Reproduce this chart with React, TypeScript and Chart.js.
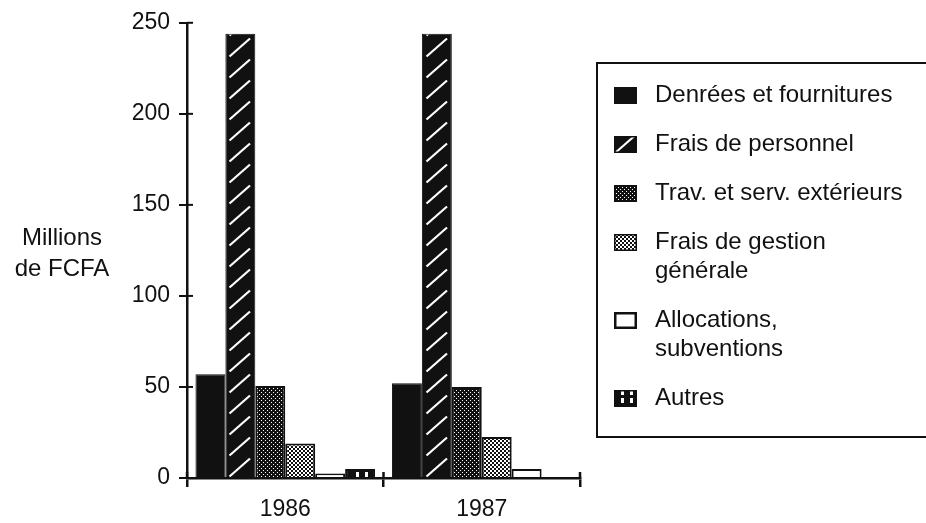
import React, { useEffect, useRef } from "react";
import { Chart, registerables } from "chart.js";

Chart.register(...registerables);

// ---- data ----
const categories = ["1986", "1987"];
const seriesLabels = [
  "Denrées et fournitures",
  "Frais de personnel",
  "Trav. et serv. extérieurs",
  "Frais de gestion\ngénérale",
  "Allocations,\nsubventions",
  "Autres",
];
const denrees = [57, 52];
const fraisPersonnel = [244, 244];
const travServ = [50.5, 50];
const fraisGestion = [19, 22.5];
const allocations = [2.5, 5];
const autres = [5, 0];
const yTickMin = 0;
const yTickMax = 250;
const yTickStep = 50;
const yTitle = ["Millions", "de FCFA"];

const seriesValues = [denrees, fraisPersonnel, travServ, fraisGestion, allocations, autres];

const FONT = '"Liberation Sans", Arial, Helvetica, sans-serif';
const INK = "#111";

function makeTile(w: number, h: number, draw: (g: CanvasRenderingContext2D) => void) {
  const c = document.createElement("canvas");
  c.width = w;
  c.height = h;
  const g = c.getContext("2d")!;
  draw(g);
  return c;
}

function buildTiles() {
  const solid = makeTile(4, 4, (g) => {
    g.fillStyle = INK;
    g.fillRect(0, 0, 4, 4);
  });
  const hatch = makeTile(30, 21, (g) => {
    g.fillStyle = INK;
    g.fillRect(0, 0, 30, 21);
    g.strokeStyle = "#fff";
    g.lineWidth = 2.2;
    g.beginPath();
    g.moveTo(4.5, 19.5);
    g.lineTo(25, 1.5);
    g.stroke();
  });
  const dots = makeTile(4, 4, (g) => {
    g.fillStyle = INK;
    g.fillRect(0, 0, 4, 4);
    g.fillStyle = "#fff";
    g.fillRect(0, 0, 1, 1);
    g.fillRect(2, 2, 1, 1);
  });
  const checker = makeTile(4, 4, (g) => {
    g.fillStyle = INK;
    g.fillRect(0, 0, 4, 4);
    g.fillStyle = "#fff";
    g.fillRect(0, 0, 2, 2);
    g.fillRect(2, 2, 2, 2);
  });
  const white = makeTile(4, 4, (g) => {
    g.fillStyle = "#fff";
    g.fillRect(0, 0, 4, 4);
  });
  const bars = makeTile(30, 8, (g) => {
    g.fillStyle = INK;
    g.fillRect(0, 0, 30, 8);
    g.fillStyle = "#fff";
    g.fillRect(11, 2, 3, 5);
    g.fillRect(20, 2, 3, 5);
  });
  return [solid, hatch, dots, checker, white, bars];
}

export default function App() {
  const ref = useRef<HTMLCanvasElement | null>(null);

  useEffect(() => {
    const canvas = ref.current!;
    const ctx = canvas.getContext("2d")!;
    const tiles = buildTiles();
    // one pattern per bar, so each can be aligned to its own bar
    const patterns = tiles.map((t) => categories.map(() => ctx.createPattern(t, "repeat")!));
    const legendPatterns = tiles.map((t) => ctx.createPattern(t, "repeat")!);

    const decor = {
      id: "decor",
      beforeDatasetsDraw(chart: any) {
        chart.data.datasets.forEach((_: any, k: number) => {
          const meta = chart.getDatasetMeta(k);
          meta.data.forEach((el: any, i: number) => {
            const left = Math.round(el.x - el.width / 2);
            const p = patterns[k][i];
            if (p && p.setTransform) p.setTransform(new DOMMatrix([1, 0, 0, 1, left, Math.round(chart.chartArea.bottom)]));
          });
        });
      },
      afterDraw(chart: any) {
        const g = chart.ctx as CanvasRenderingContext2D;
        const xs = chart.scales.x;
        const ys = chart.scales.y;
        const area = chart.chartArea;
        g.save();
        g.strokeStyle = INK;
        g.lineWidth = 2;
        // inner halves of the crossing ticks on y axis
        ys.ticks.forEach((t: any) => {
          const y = ys.getPixelForValue(t.value);
          g.beginPath();
          g.moveTo(area.left, y);
          g.lineTo(area.left + 6, y);
          g.stroke();
        });
        // upper halves of crossing ticks on x axis (category boundaries)
        const n = chart.data.labels.length;
        g.lineWidth = 2.5;
        for (let i = 0; i <= n; i++) {
          const x = xs.left + ((xs.right - xs.left) * i) / n;
          g.beginPath();
          g.moveTo(x, area.bottom);
          g.lineTo(x, area.bottom - 6);
          g.stroke();
        }
        // y-axis title (horizontal)
        g.fillStyle = INK;
        g.font = `24px ${FONT}`;
        g.textAlign = "center";
        g.textBaseline = "middle";
        yTitle.forEach((line, j) => g.fillText(line, 62, 238 + j * 31));

        // legend box
        g.lineWidth = 2;
        g.strokeRect(597, 63, 400, 374);
        let y = 95;
        chart.data.datasets.forEach((ds: any, k: number) => {
          const sx = 614, sw = 23, sh = 17;
          const sy = Math.round(y - sh / 2);
          const p = legendPatterns[k];
          if (p.setTransform) p.setTransform(new DOMMatrix([1, 0, 0, 1, sx - 4, sy - 2]));
          g.fillStyle = p;
          g.fillRect(sx, sy, sw, sh);
          const bw = k === 4 ? 2.5 : 1.5;
          g.lineWidth = bw;
          g.strokeStyle = INK;
          g.strokeRect(sx + bw / 2, sy + bw / 2, sw - bw, sh - bw);
          const lines = String(ds.label).split("\n");
          g.fillStyle = INK;
          g.font = `24px ${FONT}`;
          g.textAlign = "left";
          g.textBaseline = "middle";
          lines.forEach((ln, j) => g.fillText(ln, 655, y + j * 29));
          y += (lines.length - 1) * 29 + 49;
        });
        g.restore();
      },
    };

    const chart = new Chart(canvas, {
      type: "bar",
      data: {
        labels: categories,
        datasets: seriesValues.map((vals, k) => ({
          label: seriesLabels[k],
          data: vals,
          backgroundColor: (c: any) => (c.dataIndex !== undefined ? patterns[k][c.dataIndex] : INK),
          borderColor: INK,
          borderWidth: k === 0 || k === 1 ? 1 : 2,
        })),
      },
      options: {
        responsive: false,
        animation: false,
        devicePixelRatio: 1,
        events: [],
        layout: { padding: { left: 0, right: 346, top: 22, bottom: 0 } },
        datasets: { bar: { categoryPercentage: 0.914, barPercentage: 1 } },
        plugins: { legend: { display: false }, tooltip: { enabled: false }, title: { display: false } },
        scales: {
          x: {
            grid: { display: true, drawOnChartArea: false, offset: true, tickLength: 9, color: INK, lineWidth: 2.5 },
            border: { display: true, color: INK, width: 2.5 },
            ticks: { color: INK, font: { family: FONT, size: 23 }, padding: 9, maxRotation: 0 },
            afterFit: (s: any) => {
              s.height = 45;
            },
          },
          y: {
            min: yTickMin,
            max: yTickMax,
            ticks: { stepSize: yTickStep, color: INK, font: { family: FONT, size: 23 }, padding: 9 },
            grid: { drawOnChartArea: false, tickLength: 8, color: INK, lineWidth: 2 },
            border: { display: true, color: INK, width: 2.5 },
            afterFit: (s: any) => {
              s.width = 187;
            },
          },
        },
      },
      plugins: [decor],
    } as any);

    return () => chart.destroy();
  }, []);

  return (
    <div style={{ position: "fixed", left: 0, top: 0, width: 926, height: 523, background: "#fff" }}>
      <canvas ref={ref} width={926} height={523} style={{ width: 926, height: 523, display: "block" }} />
    </div>
  );
}
